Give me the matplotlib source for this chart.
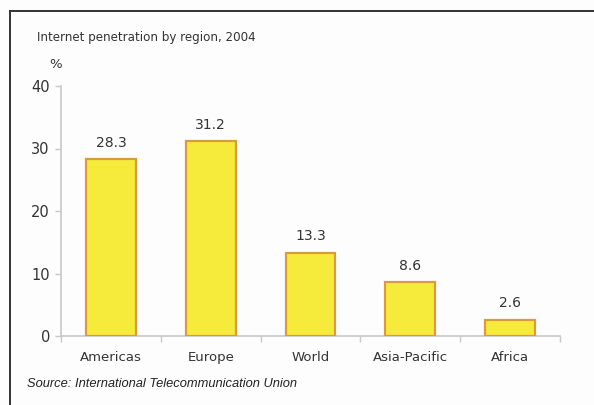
import matplotlib
matplotlib.use("Agg")
import matplotlib.pyplot as plt
from matplotlib.lines import Line2D

regions = ["Americas", "Europe", "World", "Asia-Pacific", "Africa"]
penetration = [28.3, 31.2, 13.3, 8.6, 2.6]
y_ticks = [0, 10, 20, 30, 40]

W, H = 594, 405
fig = plt.figure(figsize=(W / 100, H / 100), dpi=100)
fig.patch.set_facecolor("#fdfdfd")

ax = fig.add_axes([61 / W, 1 - 336 / H, (560 - 61) / W, (336 - 86) / H])
ax.set_facecolor("none")

x = list(range(len(regions)))
bars = ax.bar(x, penetration, width=0.5, color="#f6eb3b", edgecolor="#dc9a40",
              linewidth=1.6, zorder=3)
for xi, v in zip(x, penetration):
    ax.text(xi, v + 1.5, f"{v:.1f}", ha="center", va="bottom",
            fontsize=10, color="#333333", family="DejaVu Sans")

ax.set_xlim(-0.5, len(regions) - 0.5)
ax.set_ylim(0, 40)
ax.set_yticks(y_ticks)
ax.set_yticklabels([str(t) for t in y_ticks], fontsize=10.5, color="#333333")

# category labels centred under bars, tick marks between categories
ax.set_xticks([i - 0.5 for i in range(len(regions) + 1)])
ax.set_xticklabels([])
ax.set_xticks(x, minor=True)
ax.set_xticklabels(regions, minor=True, fontsize=9.5, color="#333333")
ax.tick_params(axis="x", which="minor", length=0, pad=11)
ax.tick_params(axis="x", which="major", length=4, color="#c8c8c8", width=1)
ax.tick_params(axis="y", length=4, color="#c8c8c8", width=1, pad=4)

for side in ("top", "right"):
    ax.spines[side].set_visible(False)
for side in ("left", "bottom"):
    ax.spines[side].set_color("#c8c8c8")
    ax.spines[side].set_linewidth(1.2)

fig.text(37 / W, 1 - 37 / H, "Internet penetration by region, 2004",
         fontsize=8.6, color="#333333", va="center", ha="left")
fig.text(56 / W, 1 - 64 / H, "%", fontsize=9.5, color="#333333",
         va="center", ha="center")
fig.text(27 / W, 1 - 384 / H, "Source: International Telecommunication Union",
         fontsize=9.3, color="#222222", style="italic", family="Liberation Sans",
         va="center", ha="left")

# outer frame: top and left edges
fig.add_artist(Line2D([10 / W, 10 / W], [0, 1 - 11 / H], transform=fig.transFigure,
                      color="#333333", linewidth=1.4))
fig.add_artist(Line2D([10 / W, 1], [1 - 11 / H, 1 - 11 / H], transform=fig.transFigure,
                      color="#333333", linewidth=1.4))

fig.savefig("out.png", dpi=100, facecolor=fig.get_facecolor())
